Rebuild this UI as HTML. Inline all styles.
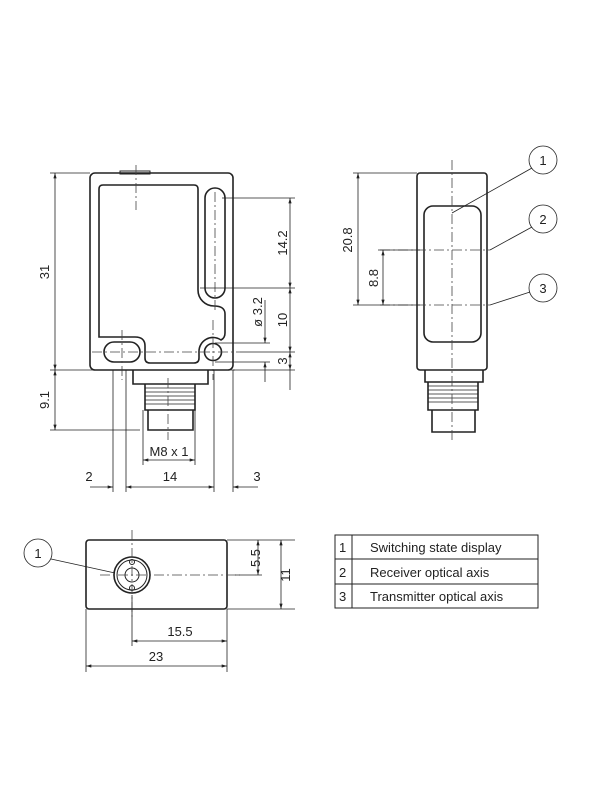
<!DOCTYPE html>
<html><head><meta charset="utf-8"><style>
html,body{margin:0;padding:0;background:#fff;width:600px;height:800px;overflow:hidden}
text{font-family:"Liberation Sans",sans-serif;font-size:13px;fill:#222}
</style></head><body>
<svg width="600" height="800" viewBox="0 0 600 800" xmlns="http://www.w3.org/2000/svg">
<defs><marker id="a" viewBox="0 0 10 6" refX="10" refY="3" markerWidth="8" markerHeight="4" orient="auto-start-reverse"><path d="M0,0L10,3L0,6z" fill="#222"/></marker></defs>
<g fill="none" stroke="#222" stroke-width="1.6">
<!-- front view -->
<rect x="90" y="173" width="143" height="197" rx="5"/>
<path d="M103,185 H194 Q198,185 198,189 V290 A16,16 0 0 0 214,306 Q225,306 225,314 V333 Q225,338 221,340 A14,14 0 0 0 199,352 V358 Q199,363 194,363 H150 Q145,363 145,358 V346 Q145,337 135,337 H99 V189 Q99,185 103,185 Z"/>
<rect x="205" y="188" width="20" height="110" rx="10"/>
<circle cx="213" cy="352" r="8.5"/>
<rect x="104" y="342" width="36" height="20" rx="10"/>
<path d="M133,370 V384 H208 V370 M145,384 V410 H195 V384 M148,410 V430 H193 V410"/>
<rect x="120" y="171" width="30" height="3" stroke-width="1"/>
<!-- side view -->
<rect x="417" y="173" width="70" height="197" rx="3"/>
<rect x="424" y="206" width="57" height="136" rx="9"/>
<path d="M425,370 V382 H483 V370 M428,382 V410 H478 V382 M432,410 V432 H475 V410"/>
<!-- bottom view -->
<rect x="86" y="540" width="141" height="69" rx="3"/>
<circle cx="132" cy="575" r="18"/>
<circle cx="132" cy="575" r="15" stroke-width="1"/>
<circle cx="132" cy="575" r="7" stroke-width="1"/>
<circle cx="132" cy="562" r="2.5" stroke-width="1"/>
<circle cx="132" cy="588" r="2.5" stroke-width="1"/>
</g>
<g stroke="#222" stroke-width="0.8">
<path d="M145,388H195M145,392H195M145,396H195M145,400H195M145,404H195"/>
<path d="M428,386H478M428,390H478M428,394H478M428,398H478M428,402H478"/>
</g>
<g stroke="#444" stroke-width="0.8" stroke-dasharray="10,3,2,3" fill="none">
<path d="M136,165V210"/><path d="M215,192V310M213,320V380"/><path d="M122,330V380"/>
<path d="M92,352H240"/><path d="M168,378V440"/>
<path d="M452,160V440"/><path d="M380,250H490"/><path d="M380,305H490"/>
<path d="M132,530V620"/><path d="M100,575H240"/>
</g>
<g stroke="#222" stroke-width="0.8" fill="none">
<path d="M50,173H90M50,370H235M50,430H140"/>
<path d="M55,173V370" marker-start="url(#a)" marker-end="url(#a)"/>
<path d="M55,370V430" marker-start="url(#a)" marker-end="url(#a)"/>
<path d="M222,198H295M200,288H295M215,343H270M215,362H270M233,370H295M240,352H295"/>
<path d="M290,198V288" marker-start="url(#a)" marker-end="url(#a)"/>
<path d="M290,288V352" marker-start="url(#a)" marker-end="url(#a)"/>
<path d="M290,352V370" marker-start="url(#a)" marker-end="url(#a)"/>
<path d="M290,370V390"/>
<path d="M265,300V343" marker-end="url(#a)"/><path d="M265,382V362" marker-end="url(#a)"/>
<path d="M113,370V492M126,370V492M214,370V492M233,370V492M143,410V465M195,410V465"/>
<path d="M143,460H195" marker-start="url(#a)" marker-end="url(#a)"/>
<path d="M90,487H113" marker-end="url(#a)"/><path d="M126,487H214" marker-start="url(#a)" marker-end="url(#a)"/><path d="M258,487H233" marker-end="url(#a)"/>
<path d="M353,173H417M353,305H420M378,250H420"/>
<path d="M358,173V305" marker-start="url(#a)" marker-end="url(#a)"/>
<path d="M383,250V305" marker-start="url(#a)" marker-end="url(#a)"/>
<path d="M227,540H295M227,609H295M235,575H262"/>
<path d="M258,540V575" marker-start="url(#a)" marker-end="url(#a)"/>
<path d="M281,540V609" marker-start="url(#a)" marker-end="url(#a)"/>
<path d="M132,595V646M227,609V672M86,609V672"/>
<path d="M132,641H227" marker-start="url(#a)" marker-end="url(#a)"/>
<path d="M86,666H227" marker-start="url(#a)" marker-end="url(#a)"/>
<circle cx="543" cy="160" r="14"/><circle cx="543" cy="219" r="14"/><circle cx="543" cy="288" r="14"/>
<path d="M532,168L452,213M532,227L490,250M530,292L490,305"/>
<circle cx="38" cy="553" r="14"/><path d="M51,559L115,573"/>
</g>
<g text-anchor="middle">
<text transform="translate(49,272) rotate(-90)">31</text>
<text transform="translate(49,400) rotate(-90)">9.1</text>
<text transform="translate(287,243) rotate(-90)">14.2</text>
<text transform="translate(287,320) rotate(-90)">10</text>
<text transform="translate(287,361) rotate(-90)">3</text>
<text transform="translate(262,312) rotate(-90)">ø 3.2</text>
<text x="169" y="456">M8 x 1</text>
<text x="89" y="481">2</text><text x="170" y="481">14</text><text x="257" y="481">3</text>
<text transform="translate(352,240) rotate(-90)">20.8</text>
<text transform="translate(378,278) rotate(-90)">8.8</text>
<text x="543" y="165">1</text><text x="543" y="224">2</text><text x="543" y="293">3</text>
<text x="38" y="558">1</text>
<text transform="translate(260,558) rotate(-90)">5.5</text>
<text transform="translate(290,575) rotate(-90)">11</text>
<text x="180" y="636">15.5</text><text x="156" y="661">23</text>
</g>
<g fill="none" stroke="#222" stroke-width="1">
<rect x="335" y="535" width="203" height="73"/>
<path d="M352,535V608M335,559H538M335,584H538"/>
</g>
<text x="339" y="552">1</text><text x="370" y="552">Switching state display</text>
<text x="339" y="577">2</text><text x="370" y="577">Receiver optical axis</text>
<text x="339" y="601">3</text><text x="370" y="601">Transmitter optical axis</text>
</svg>
</body></html>
